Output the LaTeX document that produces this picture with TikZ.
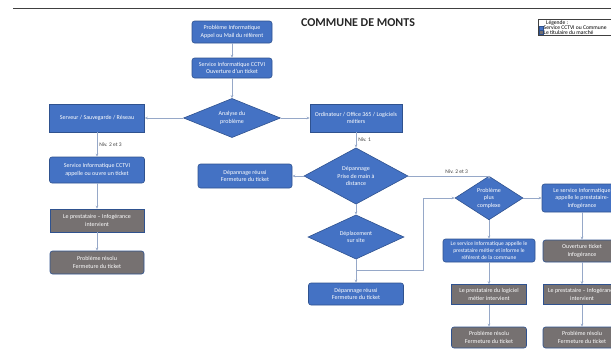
\documentclass[tikz,border=0pt]{standalone}
\usepackage{fontspec}
\setmainfont{Carlito}
\usetikzlibrary{shapes.geometric,arrows.meta}
\definecolor{bleuoff}{RGB}{68,114,196}
\definecolor{bordbleu}{RGB}{47,82,143}
\definecolor{grisoff}{RGB}{118,113,113}
\definecolor{trait}{RGB}{150,168,200}
\definecolor{fonce}{RGB}{64,64,64}

\begin{document}
\begin{tikzpicture}[x=1pt,y=-1pt,>={Stealth[length=3pt,width=2.6pt]},
  boite/.style={draw=bordbleu,line width=0.6pt,fill=bleuoff,text=white,align=center,font=\fontsize{6}{7.5}\selectfont,inner sep=1pt},
  boitearr/.style={boite,rounded corners=2.5pt},
  gris/.style={boite,fill=grisoff},
  grisarr/.style={gris,rounded corners=2.5pt},
  losange/.style={boite,diamond,inner sep=0pt},
  fleche/.style={->,draw=trait,line width=0.55pt},
  niv/.style={font=\fontsize{5.5}{6}\selectfont,text=fonce,inner sep=2pt},
  leg/.style={anchor=west,font=\fontsize{5.6}{6}\selectfont,inner sep=0pt}]
\useasboundingbox (0,0) rectangle (611,351);
\clip (0,0) rectangle (611,351);
\draw [line width=1.4pt, fonce] (13,8.5)--(611,8.5);
\node [font=\bfseries\fontsize{12}{14}\selectfont, text=black!85] (titre) at (358,23) {COMMUNE DE MONTS};

\node [draw=fonce, line width=0.5pt, anchor=north west, minimum width=90, minimum height=16] (legende) at (538,19) {};
\node [leg] (legtitre) at (546,23) {Légende :};
\node [fill=bleuoff, draw=bordbleu, line width=0.3pt, minimum size=3.8, inner sep=0pt] (carrebleu) at (541,28) {};
\node [leg] (legbleu) at (543.5,28) {Service CCTVI ou Commune};
\node [fill=grisoff, draw=bordbleu, line width=0.3pt, minimum size=3.8, inner sep=0pt] (carregris) at (541,32.3) {};
\node [leg] (leggris) at (543.5,32.3) {Le titulaire du marché};

\node [boitearr, minimum width=80, minimum height=22] (appel) at (232,32) {Problème Informatique\\Appel ou Mail du référent};
\node [boitearr, minimum width=80, minimum height=20] (ticket) at (232,68) {Service Informatique CCTVI\\Ouverture d'un ticket};
\node [losange, minimum width=97, minimum height=39] (analyse) at (232,118) {Analyse du\\problème};

\node [boite, minimum width=95, minimum height=28] (serveur) at (97,118) {Serveur / Sauvegarde / Réseau};
\node [boitearr, minimum width=95, minimum height=26] (appelleg) at (97,170) {Service Informatique CCTVI\\appelle ou ouvre un ticket};
\node [gris, minimum width=94, minimum height=23] (prestg) at (97,220.5) {Le prestataire -- Infogérance\\intervient};
\node [grisarr, minimum width=94, minimum height=23] (resolug) at (97,262.5) {Problème résolu\\Fermeture du ticket};

\node [boite, minimum width=92, minimum height=28] (ordi) at (356,118) {Ordinateur / Office 365 / Logiciels\\métiers};
\node [losange, minimum width=104, minimum height=48] (depan) at (356,176) {Dépannage\\Prise de main à\\distance};
\node [boitearr, minimum width=94, minimum height=24] (reussia) at (245,176) {Dépannage réussi\\Fermeture du ticket};
\node [losange, minimum width=96, minimum height=40] (deplac) at (356,237) {Déplacement\\sur site};
\node [boitearr, minimum width=95, minimum height=22] (reussib) at (356,294) {Dépannage réussi\\Fermeture du ticket};

\node [losange, minimum width=68, minimum height=36] (complexe) at (489,198) {Problème\\plus\\complexe};
\node [boitearr, minimum width=92, minimum height=23, font=\fontsize{5.6}{6.8}\selectfont] (metier) at (489,250.5) {Le service Informatique appelle le\\prestataire métier et informe le\\référent de la commune};
\node [gris, minimum width=75, minimum height=20] (prestm) at (489,294.5) {Le prestataire du logiciel\\métier intervient};
\node [grisarr, minimum width=75, minimum height=21] (resolum) at (489,337.5) {Problème résolu\\Fermeture du ticket};

\node [boitearr, minimum width=80, minimum height=28] (infog) at (582,198) {Le service Informatique\\appelle le prestataire-\\Infogérance};
\node [grisarr, minimum width=78, minimum height=22] (ouvert) at (582,251) {Ouverture ticket\\Infogérance};
\node [gris, minimum width=78, minimum height=20] (presti) at (582,294.5) {Le prestataire -- Infogérance\\intervient};
\node [grisarr, minimum width=78, minimum height=21] (resolui) at (582,337.5) {Problème résolu\\Fermeture du ticket};

\foreach \a/\b in {appel/ticket,ticket/analyse,analyse/serveur,analyse/ordi,appelleg/prestg,prestg/resolug,depan/reussia,depan/deplac,deplac/reussib,complexe/infog,complexe/metier,metier/prestm,prestm/resolum,infog/ouvert,ouvert/presti,presti/resolui}
  {\draw [fleche] (\a)--(\b);}
\draw [fleche] (serveur)--node[niv,right] {Niv. 2 et 3} (appelleg);
\draw [fleche] (ordi)--node[niv,right] {Niv. 1} (depan);
\draw [fleche] (depan.east) -| node[niv,above,pos=0.3] {Niv. 2 et 3} (complexe.north);
\coordinate (jonc) at (356,270);
\coordinate (coude) at (423,270);
\draw [fleche] (jonc)--(coude) |- (complexe.west);

\end{tikzpicture}
\end{document}
